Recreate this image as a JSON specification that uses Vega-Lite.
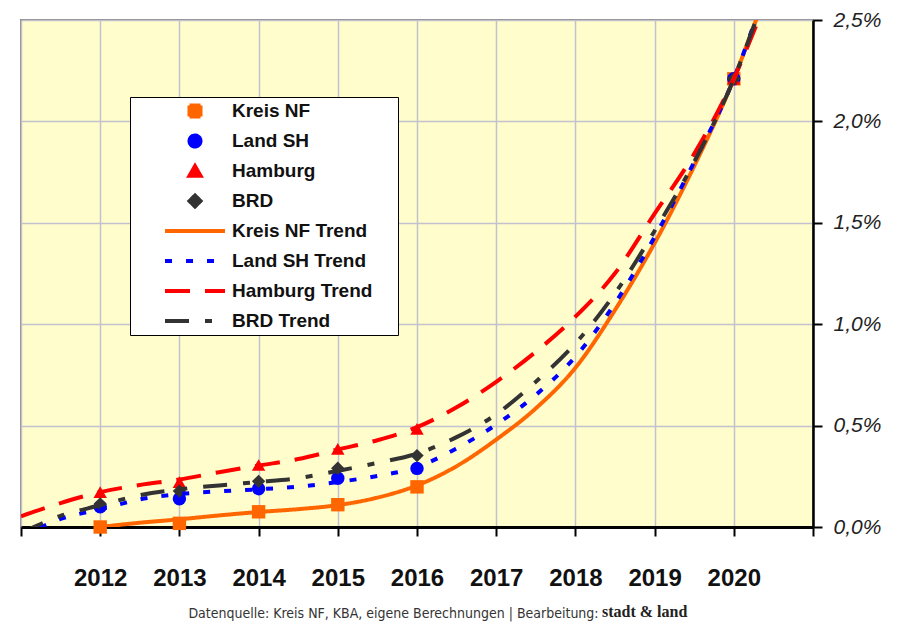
{
  "$schema": "https://vega.github.io/schema/vega-lite/v6.json",
  "width": 792,
  "height": 507,
  "autosize": {"type": "none"},
  "padding": {"left": 21, "top": 20, "right": 90, "bottom": 97},
  "background": "white",
  "config": {
    "view": {"fill": "#FFFDCC", "stroke": "#8a8a8a", "strokeWidth": 2},
    "font": "Liberation Sans",
    "legend": {
      "orient": "none",
      "legendX": 109,
      "legendY": 77,
      "padding": 4,
      "fillColor": "#FFFFFF",
      "strokeColor": "#000000",
      "symbolSize": 121,
      "symbolStrokeWidth": 4,
      "symbolOffset": 51.5,
      "labelOffset": 27.5,
      "clipHeight": 20,
      "rowPadding": 10,
      "titleOrient": "right",
      "titlePadding": 22,
      "titleFontSize": 8,
      "labelFont": "Liberation Sans",
      "labelFontWeight": "bold",
      "labelFontSize": 19,
      "labelColor": "#111111"
    }
  },
  "title": {
    "text": "stadt & land",
    "orient": "bottom",
    "anchor": "start",
    "dx": 582,
    "offset": -16,
    "font": "Liberation Serif",
    "fontSize": 16,
    "fontWeight": "bold",
    "color": "#222222"
  },
  "data": {
    "values": [
      {"series": "Kreis NF", "kind": "point", "year": 2012, "value": 0.0},
      {"series": "Kreis NF", "kind": "point", "year": 2013, "value": 0.018},
      {"series": "Kreis NF", "kind": "point", "year": 2014, "value": 0.075},
      {"series": "Kreis NF", "kind": "point", "year": 2015, "value": 0.11},
      {"series": "Kreis NF", "kind": "point", "year": 2016, "value": 0.198},
      {"series": "Kreis NF", "kind": "point", "year": 2020, "value": 2.21},
      {"series": "Land SH", "kind": "point", "year": 2012, "value": 0.1},
      {"series": "Land SH", "kind": "point", "year": 2013, "value": 0.139},
      {"series": "Land SH", "kind": "point", "year": 2014, "value": 0.189},
      {"series": "Land SH", "kind": "point", "year": 2015, "value": 0.24},
      {"series": "Land SH", "kind": "point", "year": 2016, "value": 0.289},
      {"series": "Land SH", "kind": "point", "year": 2020, "value": 2.21},
      {"series": "Hamburg", "kind": "point", "year": 2012, "value": 0.172},
      {"series": "Hamburg", "kind": "point", "year": 2013, "value": 0.221},
      {"series": "Hamburg", "kind": "point", "year": 2014, "value": 0.306},
      {"series": "Hamburg", "kind": "point", "year": 2015, "value": 0.385},
      {"series": "Hamburg", "kind": "point", "year": 2016, "value": 0.484},
      {"series": "Hamburg", "kind": "point", "year": 2020, "value": 2.21},
      {"series": "BRD", "kind": "point", "year": 2012, "value": 0.114},
      {"series": "BRD", "kind": "point", "year": 2013, "value": 0.177},
      {"series": "BRD", "kind": "point", "year": 2014, "value": 0.225},
      {"series": "BRD", "kind": "point", "year": 2015, "value": 0.29},
      {"series": "BRD", "kind": "point", "year": 2016, "value": 0.352},
      {"series": "BRD", "kind": "point", "year": 2020, "value": 2.21},

      {"series": "Kreis NF Trend", "kind": "trend", "year": 2012, "value": 0.0},
      {"series": "Kreis NF Trend", "kind": "trend", "year": 2012.5, "value": 0.021},
      {"series": "Kreis NF Trend", "kind": "trend", "year": 2013, "value": 0.038},
      {"series": "Kreis NF Trend", "kind": "trend", "year": 2013.5, "value": 0.057},
      {"series": "Kreis NF Trend", "kind": "trend", "year": 2014, "value": 0.074},
      {"series": "Kreis NF Trend", "kind": "trend", "year": 2014.5, "value": 0.088},
      {"series": "Kreis NF Trend", "kind": "trend", "year": 2015, "value": 0.108},
      {"series": "Kreis NF Trend", "kind": "trend", "year": 2015.5, "value": 0.145},
      {"series": "Kreis NF Trend", "kind": "trend", "year": 2016, "value": 0.205},
      {"series": "Kreis NF Trend", "kind": "trend", "year": 2016.5, "value": 0.3},
      {"series": "Kreis NF Trend", "kind": "trend", "year": 2017, "value": 0.431},
      {"series": "Kreis NF Trend", "kind": "trend", "year": 2017.5, "value": 0.585},
      {"series": "Kreis NF Trend", "kind": "trend", "year": 2018, "value": 0.785},
      {"series": "Kreis NF Trend", "kind": "trend", "year": 2018.5, "value": 1.07},
      {"series": "Kreis NF Trend", "kind": "trend", "year": 2019, "value": 1.4},
      {"series": "Kreis NF Trend", "kind": "trend", "year": 2019.5, "value": 1.78},
      {"series": "Kreis NF Trend", "kind": "trend", "year": 2020, "value": 2.21},
      {"series": "Kreis NF Trend", "kind": "trend", "year": 2020.3, "value": 2.52},

      {"series": "Land SH Trend", "kind": "trend", "year": 2011, "value": -0.05},
      {"series": "Land SH Trend", "kind": "trend", "year": 2011.5, "value": 0.04},
      {"series": "Land SH Trend", "kind": "trend", "year": 2012, "value": 0.087},
      {"series": "Land SH Trend", "kind": "trend", "year": 2012.5, "value": 0.136},
      {"series": "Land SH Trend", "kind": "trend", "year": 2013, "value": 0.162},
      {"series": "Land SH Trend", "kind": "trend", "year": 2013.5, "value": 0.176},
      {"series": "Land SH Trend", "kind": "trend", "year": 2014, "value": 0.186},
      {"series": "Land SH Trend", "kind": "trend", "year": 2014.5, "value": 0.199},
      {"series": "Land SH Trend", "kind": "trend", "year": 2015, "value": 0.222},
      {"series": "Land SH Trend", "kind": "trend", "year": 2015.5, "value": 0.252},
      {"series": "Land SH Trend", "kind": "trend", "year": 2016, "value": 0.295},
      {"series": "Land SH Trend", "kind": "trend", "year": 2016.5, "value": 0.388},
      {"series": "Land SH Trend", "kind": "trend", "year": 2017, "value": 0.505},
      {"series": "Land SH Trend", "kind": "trend", "year": 2017.5, "value": 0.651},
      {"series": "Land SH Trend", "kind": "trend", "year": 2018, "value": 0.84},
      {"series": "Land SH Trend", "kind": "trend", "year": 2018.5, "value": 1.103},
      {"series": "Land SH Trend", "kind": "trend", "year": 2019, "value": 1.43},
      {"series": "Land SH Trend", "kind": "trend", "year": 2019.5, "value": 1.8},
      {"series": "Land SH Trend", "kind": "trend", "year": 2020, "value": 2.21},
      {"series": "Land SH Trend", "kind": "trend", "year": 2020.3, "value": 2.53},

      {"series": "Hamburg Trend", "kind": "trend", "year": 2011, "value": 0.053},
      {"series": "Hamburg Trend", "kind": "trend", "year": 2011.5, "value": 0.118},
      {"series": "Hamburg Trend", "kind": "trend", "year": 2012, "value": 0.172},
      {"series": "Hamburg Trend", "kind": "trend", "year": 2012.5, "value": 0.207},
      {"series": "Hamburg Trend", "kind": "trend", "year": 2013, "value": 0.234},
      {"series": "Hamburg Trend", "kind": "trend", "year": 2013.5, "value": 0.27},
      {"series": "Hamburg Trend", "kind": "trend", "year": 2014, "value": 0.303},
      {"series": "Hamburg Trend", "kind": "trend", "year": 2014.5, "value": 0.335},
      {"series": "Hamburg Trend", "kind": "trend", "year": 2015, "value": 0.382},
      {"series": "Hamburg Trend", "kind": "trend", "year": 2015.5, "value": 0.428},
      {"series": "Hamburg Trend", "kind": "trend", "year": 2016, "value": 0.492},
      {"series": "Hamburg Trend", "kind": "trend", "year": 2016.5, "value": 0.59},
      {"series": "Hamburg Trend", "kind": "trend", "year": 2017, "value": 0.716},
      {"series": "Hamburg Trend", "kind": "trend", "year": 2017.5, "value": 0.864},
      {"series": "Hamburg Trend", "kind": "trend", "year": 2018, "value": 1.037},
      {"series": "Hamburg Trend", "kind": "trend", "year": 2018.5, "value": 1.251},
      {"series": "Hamburg Trend", "kind": "trend", "year": 2019, "value": 1.545},
      {"series": "Hamburg Trend", "kind": "trend", "year": 2019.5, "value": 1.84},
      {"series": "Hamburg Trend", "kind": "trend", "year": 2020, "value": 2.21},
      {"series": "Hamburg Trend", "kind": "trend", "year": 2020.3, "value": 2.49},

      {"series": "BRD Trend", "kind": "trend", "year": 2011, "value": -0.03},
      {"series": "BRD Trend", "kind": "trend", "year": 2011.5, "value": 0.055},
      {"series": "BRD Trend", "kind": "trend", "year": 2012, "value": 0.107},
      {"series": "BRD Trend", "kind": "trend", "year": 2012.5, "value": 0.157},
      {"series": "BRD Trend", "kind": "trend", "year": 2013, "value": 0.186},
      {"series": "BRD Trend", "kind": "trend", "year": 2013.5, "value": 0.205},
      {"series": "BRD Trend", "kind": "trend", "year": 2014, "value": 0.222},
      {"series": "BRD Trend", "kind": "trend", "year": 2014.5, "value": 0.241},
      {"series": "BRD Trend", "kind": "trend", "year": 2015, "value": 0.277},
      {"series": "BRD Trend", "kind": "trend", "year": 2015.5, "value": 0.316},
      {"series": "BRD Trend", "kind": "trend", "year": 2016, "value": 0.362},
      {"series": "BRD Trend", "kind": "trend", "year": 2016.5, "value": 0.443},
      {"series": "BRD Trend", "kind": "trend", "year": 2017, "value": 0.556},
      {"series": "BRD Trend", "kind": "trend", "year": 2017.5, "value": 0.716},
      {"series": "BRD Trend", "kind": "trend", "year": 2018, "value": 0.905},
      {"series": "BRD Trend", "kind": "trend", "year": 2018.5, "value": 1.152},
      {"series": "BRD Trend", "kind": "trend", "year": 2019, "value": 1.46},
      {"series": "BRD Trend", "kind": "trend", "year": 2019.5, "value": 1.8},
      {"series": "BRD Trend", "kind": "trend", "year": 2020, "value": 2.21},
      {"series": "BRD Trend", "kind": "trend", "year": 2020.3, "value": 2.52}
    ]
  },
  "encoding": {
    "x": {
      "field": "year",
      "type": "quantitative",
      "scale": {"domain": [2011, 2021], "nice": false, "zero": false},
      "axis": {
        "values": [2011, 2012, 2013, 2014, 2015, 2016, 2017, 2018, 2019, 2020, 2021],
        "labelExpr": "datum.value >= 2012 && datum.value <= 2020 ? format(datum.value, 'd') : ''",
        "labelFlush": false,
        "labelOverlap": false,
        "grid": true,
        "gridColor": "#c2c2cf",
        "gridWidth": 1.5,
        "domainColor": "#000000",
        "domainWidth": 3,
        "tickColor": "#000000",
        "tickWidth": 2,
        "tickSize": 9,
        "labelFont": "Liberation Sans",
        "labelFontWeight": "bold",
        "labelFontSize": 24,
        "labelColor": "#111111",
        "labelPadding": 30,
        "title": "Datenquelle: Kreis NF, KBA, eigene Berechnungen | Bearbeitung:",
        "titleFont": "DejaVu Sans Condensed",
        "titleFontWeight": "normal",
        "titleFontSize": 14,
        "titleColor": "#333333",
        "titleX": 372,
        "titleY": 86,
        "titleAlign": "center",
        "titleBaseline": "middle"
      }
    },
    "y": {
      "field": "value",
      "type": "quantitative",
      "scale": {"domain": [0, 2.5], "nice": false},
      "axis": {
        "orient": "right",
        "values": [0, 0.5, 1, 1.5, 2, 2.5],
        "labelExpr": "replace(format(datum.value, '.1f'), '.', ',') + '%'",
        "grid": true,
        "gridColor": "#c2c2cf",
        "gridWidth": 1.5,
        "domainColor": "#000000",
        "domainWidth": 2.5,
        "tickColor": "#000000",
        "tickWidth": 2,
        "tickSize": 9,
        "labelFont": "Liberation Sans",
        "labelFontStyle": "italic",
        "labelFontSize": 21,
        "labelColor": "#222222",
        "labelPadding": 11,
        "labelFlush": false,
        "title": null
      }
    }
  },
  "layer": [
    {
      "transform": [{"filter": "datum.kind === 'point'"}],
      "mark": {"type": "point", "filled": true, "opacity": 1, "strokeWidth": 0, "size": 180},
      "encoding": {
        "fill": {
          "field": "series",
          "type": "nominal",
          "scale": {
            "domain": ["Kreis NF", "Land SH", "Hamburg", "BRD", "Kreis NF Trend", "Land SH Trend", "Hamburg Trend", "BRD Trend"],
            "range": ["#FF6600", "#0000FF", "#FF0000", "#333333", "#FF6600", "#0000FF", "#FF0000", "#333333"]
          },
          "legend": {"title": " "}
        },
        "shape": {
          "field": "series",
          "type": "nominal",
          "scale": {
            "domain": ["Kreis NF", "Land SH", "Hamburg", "BRD", "Kreis NF Trend", "Land SH Trend", "Hamburg Trend", "BRD Trend"],
            "range": ["square", "circle", "triangle-up", "diamond", "M-5.45,0H5.45", "M-5.45,0H5.45", "M-5.45,0H5.45", "M-5.45,0H5.45"]
          },
          "legend": {"title": " "}
        }
      }
    },
    {
      "transform": [{"filter": "datum.kind === 'trend'"}],
      "mark": {"type": "line", "interpolate": "monotone", "strokeWidth": 4, "clip": true},
      "encoding": {
        "stroke": {
          "field": "series",
          "type": "nominal",
          "scale": {
            "domain": ["Kreis NF", "Land SH", "Hamburg", "BRD", "Kreis NF Trend", "Land SH Trend", "Hamburg Trend", "BRD Trend"],
            "range": ["#FF6600", "#0000FF", "#FF0000", "#333333", "#FF6600", "#0000FF", "#FF0000", "#333333"]
          },
          "legend": {"title": " "}
        },
        "strokeDash": {
          "field": "series",
          "type": "nominal",
          "scale": {
            "domain": ["Kreis NF", "Land SH", "Hamburg", "BRD", "Kreis NF Trend", "Land SH Trend", "Hamburg Trend", "BRD Trend"],
            "range": [[1, 0], [1, 0], [1, 0], [1, 0], [1, 0], [7, 14], [25, 15], [24, 16, 7, 16]]
          },
          "legend": {"title": " "}
        }
      }
    }
  ]
}
